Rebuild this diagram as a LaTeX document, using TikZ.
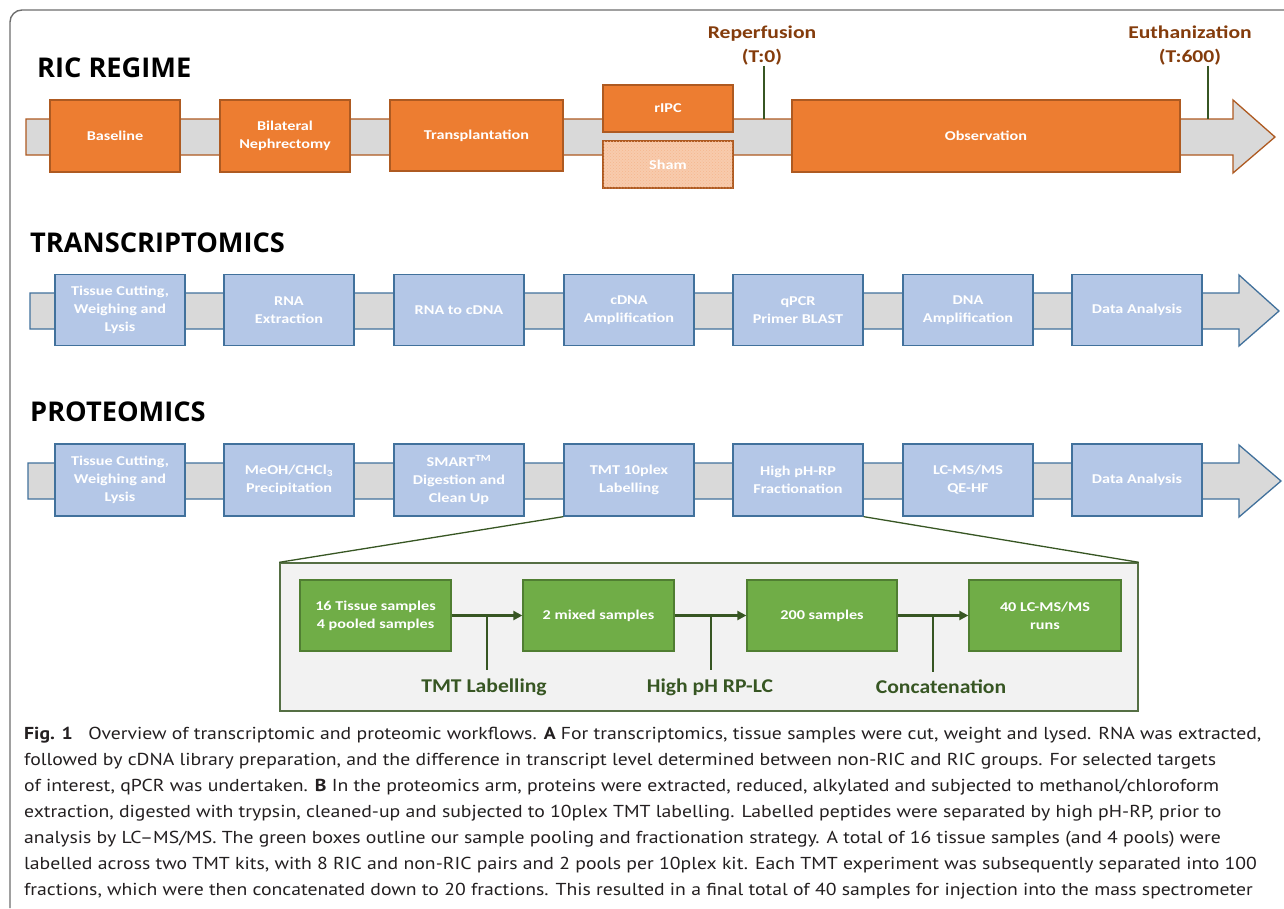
\documentclass[tikz,border=0pt]{standalone}
\usepackage{fontspec}
\setmainfont{Carlito}
\newfontfamily\titlefont{Open Sans}
\newfontfamily\capfont[FakeStretch=1.14,Ligatures=TeX]{PT Sans}
\newfontfamily\boxfont[FakeStretch=1.2]{Carlito}
\newfontfamily\glabfont[FakeStretch=1.11]{Carlito}
\usetikzlibrary{patterns,arrows.meta}
\definecolor{orfill}{HTML}{ED7D31}
\definecolor{orline}{HTML}{AE5A21}
\definecolor{shamfill}{HTML}{F8CBAD}
\definecolor{shaft}{HTML}{D9D9D9}
\definecolor{blfill}{HTML}{B4C7E7}
\definecolor{blline}{HTML}{41719C}
\definecolor{grfill}{HTML}{70AD47}
\definecolor{grline}{HTML}{507E32}
\definecolor{dkgreen}{HTML}{375623}
\definecolor{brown}{HTML}{843C0C}
\definecolor{framegray}{HTML}{6E6E6E}
\definecolor{panelgray}{HTML}{F2F2F2}
\definecolor{captext}{HTML}{231F20}
\tikzset{
  ricbox/.style={draw=orline, fill=orfill, line width=1.3, text=white,
    font=\boxfont\bfseries\fontsize{13.5}{18}\selectfont, align=center, inner sep=0, minimum width=130, minimum height=72},
  blbox/.style={draw=blline, fill=blfill, line width=1.3, text=white,
    font=\boxfont\bfseries\fontsize{13.5}{18}\selectfont, align=center, inner sep=0, minimum width=130, minimum height=71},
  grbox/.style={draw=grline, fill=grfill, line width=1.3, text=white,
    font=\boxfont\bfseries\fontsize{13.5}{18}\selectfont, align=center, inner sep=0, minimum width=151, minimum height=71},
  sectitle/.style={anchor=base west, inner sep=0, font=\titlefont\bfseries\fontsize{27.2}{30}\selectfont, text=black},
  timelab/.style={text=brown, font=\boxfont\bfseries\fontsize{18}{24}\selectfont, align=center, inner sep=0},
  tick/.style={draw=dkgreen, line width=2},
  garrow/.style={draw=dkgreen, line width=2.2, -{Triangle[length=9,width=9]}},
  gtick/.style={draw=dkgreen, line width=2},
  glab/.style={text=dkgreen, font=\glabfont\bfseries\fontsize{19.5}{22}\selectfont, inner xsep=0, inner ysep=8},
  capline/.style={anchor=base west, inner sep=0, text=captext, font=\capfont\fontsize{17.3}{20}\selectfont},
}
\begin{document}
\begin{tikzpicture}[x=1pt,y=-1pt]
\useasboundingbox (0,0) rectangle (1284,908);
\fill[white] (0,0) rectangle (1284,908);
% outer frame
\draw[framegray, line width=1.4, rounded corners=12] (10,908) -- (10,10) -- (1284,10);

% ---------- RIC REGIME ----------
\node[sectitle] (t1) at (37,77) {RIC REGIME};
\draw[orline, fill=shaft, line width=1.3] (26,119) -- (1233,119) -- (1233,100) -- (1275,137) -- (1233,173) -- (1233,155) -- (26,155) -- cycle;
\node[ricbox] (base) at (115,136) {Baseline};
\node[ricbox] (neph) at (285,136) {Bilateral\\Nephrectomy};
\node[ricbox, minimum width=173, minimum height=71] (trans) at (476.5,135.5) {Transplantation};
\node[ricbox, minimum height=47] (ripc) at (668,108.5) {rIPC};
\node[ricbox, minimum height=47, fill=shamfill, postaction={pattern=crosshatch dots, pattern color=orfill!55}] (sham) at (668,164.5) {Sham};
\node[ricbox, minimum width=388] (obs) at (986,136) {Observation};
\node[timelab] (reper) at (762,46) {Reperfusion\\(T:0)};
\node[timelab] (euth) at (1190,46) {Euthanization\\(T:600)};
\coordinate (r0) at (764,119);
\coordinate (e0) at (1208,119);
\draw[tick] (reper.south -| r0) -- (r0);
\draw[tick] (euth.south -| e0) -- (e0);

% ---------- TRANSCRIPTOMICS ----------
\node[sectitle] (t2) at (30,252) {TRANSCRIPTOMICS};
\draw[blline, fill=shaft, line width=1.3] (30,293) -- (1239,293) -- (1239,275) -- (1279,311) -- (1239,346) -- (1239,329) -- (30,329) -- cycle;
\node[blbox] (a1) at (120,310) {Tissue Cutting,\\Weighing and\\Lysis};
\node[blbox] (a2) at (289,310) {RNA\\Extraction};
\node[blbox] (a3) at (459,310) {RNA to cDNA};
\node[blbox] (a4) at (629,310) {cDNA\\Amplification};
\node[blbox] (a5) at (798,310) {qPCR\\Primer BLAST};
\node[blbox] (a6) at (968,310) {DNA\\Amplification};
\node[blbox] (a7) at (1137,310) {Data Analysis};

% ---------- PROTEOMICS ----------
\node[sectitle] (t3) at (30,421) {PROTEOMICS};
\draw[blline, fill=shaft, line width=1.3] (28,463) -- (1239,463) -- (1239,445) -- (1281,481) -- (1239,517) -- (1239,499) -- (28,499) -- cycle;
\node[blbox, minimum height=72] (b1) at (120,480) {Tissue Cutting,\\Weighing and\\Lysis};
\node[blbox, minimum height=72] (b2) at (289,480) {MeOH/CHCl\textsubscript{3}\\Precipitation};
\node[blbox, minimum height=72] (b3) at (459,480) {SMART\textsuperscript{TM}\\Digestion and\\Clean Up};
\node[blbox, minimum height=72] (b4) at (629,480) {TMT 10plex\\Labelling};
\node[blbox, minimum height=72] (b5) at (798,480) {High pH-RP\\Fractionation};
\node[blbox, minimum height=72] (b6) at (968,480) {LC-MS/MS\\QE-HF};
\node[blbox, minimum height=72] (b7) at (1137,480) {Data Analysis};

% ---------- green panel ----------
\node[draw=dkgreen!85, fill=panelgray, line width=1.4, minimum width=858, minimum height=148, inner sep=0] (panel) at (709,637) {};
\draw[dkgreen, line width=1.3] (b4.south west) -- (panel.north west);
\draw[dkgreen, line width=1.3] (b5.south east) -- (panel.north east);
\node[grbox] (g1) at (375.5,615.5) {16 Tissue samples\\4 pooled samples};
\node[grbox] (g2) at (598.5,615.5) {2 mixed samples};
\node[grbox, minimum width=150] (g3) at (822,615.5) {200 samples};
\node[grbox, minimum width=152] (g4) at (1045,615.5) {40 LC-MS/MS\\runs};
\draw[garrow] (g1) -- (g2);
\draw[garrow] (g2) -- (g3);
\draw[garrow] (g3) -- (g4);
\node[glab] (l1) at (484,687) {TMT Labelling};
\node[glab] (l2) at (710,687) {High pH RP-LC};
\node[glab] (l3) at (941,687) {Concatenation};
\coordinate (k1) at (487,615.5);
\coordinate (k2) at (711,615.5);
\coordinate (k3) at (933,615.5);
\draw[gtick] (k1) -- (k1 |- l1.north);
\draw[gtick] (k2) -- (k2 |- l2.north);
\draw[gtick] (k3) -- (k3 |- l3.north);

% ---------- caption ----------
\node[capline] (c1) at (24,739) {\textbf{Fig. 1}\hspace{0.6em} Overview of transcriptomic and proteomic workflows. \textbf{A} For transcriptomics, tissue samples were cut, weight and lysed. RNA was extracted,};
\node[capline] (c2) at (24,765) {followed by cDNA library preparation, and the difference in transcript level determined between non-RIC and RIC groups. For selected targets};
\node[capline] (c3) at (24,791) {of interest, qPCR was undertaken. \textbf{B} In the proteomics arm, proteins were extracted, reduced, alkylated and subjected to methanol/chloroform};
\node[capline] (c4) at (24,817) {extraction, digested with trypsin, cleaned-up and subjected to 10plex TMT labelling. Labelled peptides were separated by high pH-RP, prior to};
\node[capline] (c5) at (24,843) {analysis by LC–MS/MS. The green boxes outline our sample pooling and fractionation strategy. A total of 16 tissue samples (and 4 pools) were};
\node[capline] (c6) at (24,869) {labelled across two TMT kits, with 8 RIC and non-RIC pairs and 2 pools per 10plex kit. Each TMT experiment was subsequently separated into 100};
\node[capline] (c7) at (24,895) {fractions, which were then concatenated down to 20 fractions. This resulted in a final total of 40 samples for injection into the mass spectrometer};
\end{tikzpicture}
\end{document}
